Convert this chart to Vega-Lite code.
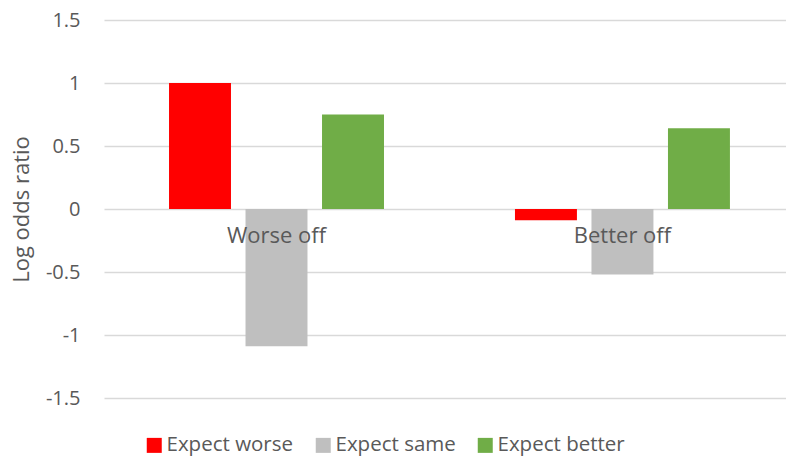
{
  "$schema": "https://vega.github.io/schema/vega-lite/v6.json",
  "width": 682,
  "height": 378,
  "autosize": {"type": "none"},
  "padding": {"left": 104, "top": 20, "right": 0, "bottom": 61},
  "background": "white",
  "config": {
    "view": {"stroke": null},
    "font": "Open Sans",
    "axis": {"labelFont": "Open Sans", "titleFont": "Open Sans", "labelColor": "#595959", "titleColor": "#595959"},
    "legend": {"labelFont": "Open Sans"}
  },
  "data": {
    "values": [
      {"group": "Worse off", "series": "Expect worse", "value": 1.0},
      {"group": "Worse off", "series": "Expect same", "value": -1.09},
      {"group": "Worse off", "series": "Expect better", "value": 0.75},
      {"group": "Better off", "series": "Expect worse", "value": -0.09},
      {"group": "Better off", "series": "Expect same", "value": -0.52},
      {"group": "Better off", "series": "Expect better", "value": 0.64}
    ]
  },
  "mark": {"type": "bar"},
  "encoding": {
    "x": {
      "field": "group",
      "type": "nominal",
      "sort": ["Worse off", "Better off"],
      "scale": {"paddingInner": 0.3786, "paddingOuter": 0.175, "align": 0.537},
      "axis": {
        "title": null,
        "orient": "bottom",
        "offset": -189,
        "domain": false,
        "ticks": false,
        "tickSize": 0,
        "grid": false,
        "labelAngle": 0,
        "labelFontSize": 22,
        "labelPadding": 16,
        "labelColor": "#595959",
        "zindex": 1
      }
    },
    "xOffset": {
      "field": "series",
      "type": "nominal",
      "sort": ["Expect worse", "Expect same", "Expect better"],
      "scale": {"paddingInner": 0.19, "paddingOuter": 0}
    },
    "y": {
      "field": "value",
      "type": "quantitative",
      "scale": {"domain": [-1.5, 1.5], "nice": false, "zero": false},
      "axis": {
        "title": "Log odds ratio",
        "titleFontSize": 22,
        "titleFontWeight": "normal",
        "titlePadding": 12,
        "values": [-1.5, -1, -0.5, 0, 0.5, 1, 1.5],
        "labelExpr": "'' + datum.value",
        "labelFontSize": 20,
        "labelPadding": 24,
        "ticks": false,
        "tickSize": 0,
        "domain": false,
        "grid": true,
        "gridColor": "#d9d9d9",
        "gridWidth": 1.3,
        "zindex": 0
      }
    },
    "color": {
      "field": "series",
      "type": "nominal",
      "sort": ["Expect worse", "Expect same", "Expect better"],
      "scale": {"domain": ["Expect worse", "Expect same", "Expect better"], "range": ["#ff0000", "#bfbfbf", "#70ad47"]},
      "legend": {
        "title": null,
        "orient": "none",
        "direction": "horizontal",
        "legendX": 40,
        "legendY": 415,
        "symbolType": "square",
        "symbolSize": 225,
        "symbolStrokeWidth": 0,
        "symbolOpacity": 1,
        "labelFontSize": 20.5,
        "labelColor": "#595959",
        "labelOffset": 2,
        "columnPadding": 19,
        "padding": 0
      }
    }
  }
}
